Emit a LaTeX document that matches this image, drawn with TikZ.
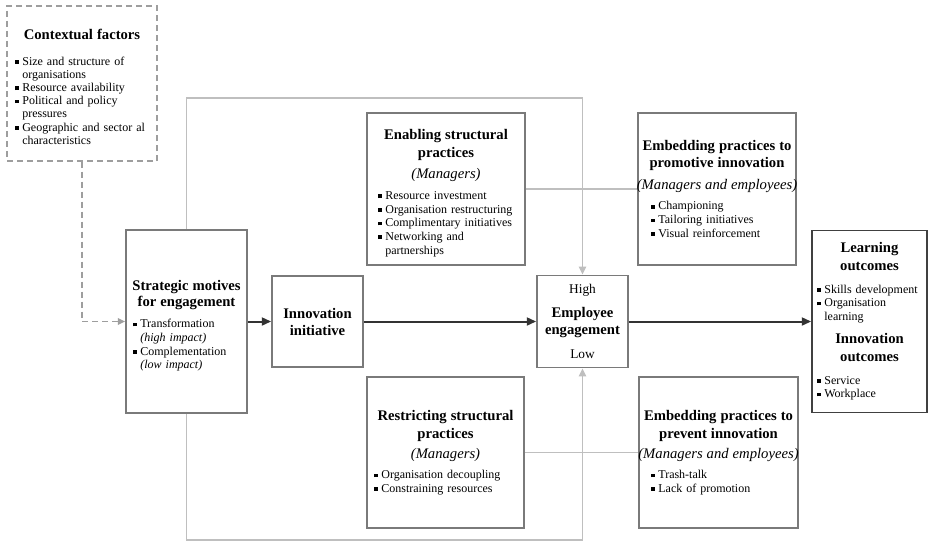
\documentclass[tikz,border=0pt]{standalone}
\usepackage{fontspec}
\setmainfont{Liberation Serif}
\usetikzlibrary{arrows.meta}

\newcommand{\hdl}[1]{{\fontsize{11}{13.5}\selectfont\bfseries\noindent\makebox[\linewidth]{#1}\par}}
\newcommand{\who}[1]{{\fontsize{11}{13.5}\selectfont\itshape\noindent\makebox[\linewidth]{#1}\par}}
\newcommand{\lvl}[1]{{\fontsize{10}{13.5}\selectfont\noindent\makebox[\linewidth]{#1}\par}}
\newcommand{\itm}[1]{{\raggedright\hangindent=5.5pt\hangafter=1\noindent\makebox[5.5pt][l]{\rule[1.1pt]{2.7pt}{2.7pt}}#1\par}}

\begin{document}
\begin{tikzpicture}[x=0.75pt, y=-0.75pt,
  box/.style={draw=black!52, line width=1.35pt, fill=white, inner sep=0pt, font=\fontsize{9}{10.25}\selectfont},
  wh/.style 2 args={minimum width=#1*0.75pt, minimum height=#2*0.75pt},
  tw/.style={text width=#1*0.75pt},
  link/.style={draw=black!25, line width=1.3pt},
  linkarrow/.style={link, -{Triangle[length=6pt, width=5.5pt]}},
  mainarrow/.style={draw=black!80, line width=1.5pt, -{Triangle[length=7pt, width=6pt]}},
  ctxarrow/.style={draw=black!38, line width=1pt, dash pattern=on 4.5pt off 3pt, -{Triangle[length=5.5pt, width=5pt]}}
]
\useasboundingbox (0,0) rectangle (930,542);

\node[box, draw=black!38, dash pattern=on 4.5pt off 3pt, line width=1pt, font=\fontsize{9}{9.9}\selectfont, wh={150}{155}, tw={134}] (ctx) at (82,83.5)
  {\hdl{\rule{0pt}{13pt}Contextual factors}\vspace{9pt}\itm{Size and structure of\newline organisations}\itm{Resource availability}\itm{Political and policy\newline pressures}\itm{Geographic and sector al\newline characteristics}};

\node[box, wh={121}{183}, tw={107}] (strat) at (186.5,321.5)
  {\hdl{\rule{0pt}{14pt}Strategic motives}\vspace{-1.5pt}\hdl{for engagement}\vspace{6pt}\itm{Transformation\newline\textit{(high impact)}}\itm{Complementation\newline\textit{(low impact)}}};

\node[box, wh={91}{91}, tw={85}] (innov) at (317.5,321.5)
  {\hdl{Innovation}\vspace{-0.75pt}\hdl{initiative}};

\node[box, wh={91}{92}, tw={85}] (engage) at (582.5,321.5)
  {\lvl{High}\vspace{5pt}\hdl{Employee}\vspace{-0.75pt}\hdl{engagement}\vspace{4.5pt}\lvl{Low}};

\node[box, wh={158}{152}, tw={136}] (enab) at (446,189)
  {\hdl{\rule{0pt}{14pt}Enabling structural}\hdl{practices}\vspace{2pt}\who{(Managers)}\vspace{5.5pt}\itm{Resource investment}\itm{Organisation restructuring}\itm{Complimentary initiatives}\itm{Networking and\newline partnerships}};

\node[box, wh={158}{152}, tw={132}] (promo) at (717,189)
  {\hdl{Embedding practices to}\vspace{-0.75pt}\hdl{promotive innovation}\vspace{3pt}\who{(Managers and employees)}\vspace{5pt}\itm{Championing}\itm{Tailoring initiatives}\itm{Visual reinforcement}};

\node[box, wh={157}{151}, tw={143}] (restr) at (445.5,452.5)
  {\hdl{Restricting structural}\hdl{practices}\vspace{2pt}\who{(Managers)}\vspace{4.5pt}\itm{Organisation decoupling}\itm{Constraining resources}};

\node[box, wh={159}{151}, tw={135}] (prev) at (718.5,452.5)
  {\hdl{Embedding practices to}\hdl{prevent innovation}\vspace{2pt}\who{(Managers and employees)}\vspace{4.5pt}\itm{Trash-talk}\itm{Lack of promotion}};

\node[box, draw=black!75, wh={115}{182}, tw={105}] (outc) at (869.5,321.5)
  {\hdl{Learning}\hdl{outcomes}\vspace{6.5pt}\itm{Skills development}\itm{Organisation\newline learning}\vspace{4pt}\hdl{Innovation}\hdl{outcomes}\vspace{6.5pt}\itm{Service}\itm{Workplace}};

\coordinate (topbend) at (186.5,98);
\coordinate (botbend) at (186.5,540);
\draw[linkarrow] (strat.north) -- (topbend) -| (engage.north);
\draw[linkarrow] (strat.south) -- (botbend) -| (engage.south);
\draw[link] (enab.east) -- (promo.west);
\draw[link] (restr.east) -- (prev.west);
\draw[ctxarrow] (ctx.south) |- (strat.west);
\draw[mainarrow] (strat.east) -- (innov.west);
\draw[mainarrow] (innov.east) -- (engage.west);
\draw[mainarrow] (engage.east) -- (outc.west);
\end{tikzpicture}
\end{document}
